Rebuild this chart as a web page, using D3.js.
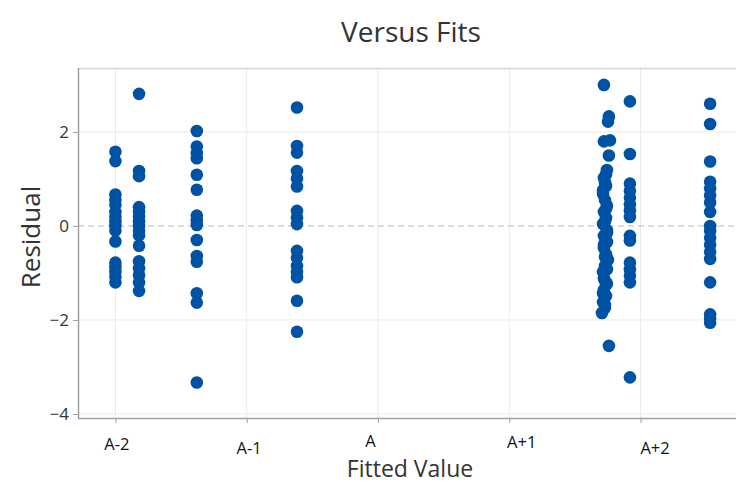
<!DOCTYPE html>
<html>
<head>
<meta charset="utf-8">
<script src="https://cdn.jsdelivr.net/npm/d3@7"></script>
<style>
  html, body { margin: 0; padding: 0; background: #fff; }
  svg { display: block; font-family: "Open Sans", "Noto Sans", sans-serif; }
</style>
</head>
<body>
<svg id="chart" width="736" height="484"></svg>
<script>
// ---- data ----
const xTickValues = [-2, -1, 0, 1, 2];
const xTickLabels = ["A-2", "A-1", "A", "A+1", "A+2"];
const yTickValues = [-4, -2, 0, 2];

// fitted value of each point (in units relative to A)
const fits = [
  // column near A-2
  -2.0, -2.0, -2.0, -2.0, -2.0, -2.0, -2.0, -2.0, -2.0, -2.0, -2.0, -2.0, -2.0, -2.0, -2.0, -2.0,
  // second column
  -1.82, -1.82, -1.82, -1.82, -1.82, -1.82, -1.82, -1.82, -1.82, -1.82, -1.82, -1.82, -1.82, -1.82, -1.82, -1.82,
  // third column
  -1.38, -1.38, -1.38, -1.38, -1.38, -1.38, -1.38, -1.38, -1.38, -1.38, -1.38, -1.38, -1.38, -1.38, -1.38,
  // fourth column
  -0.617, -0.617, -0.617, -0.617, -0.617, -0.617, -0.617, -0.617, -0.617, -0.617, -0.617, -0.617, -0.617, -0.617, -0.617, -0.617,
  // fifth column (dense)
  1.721, 1.759, 1.752, 1.721, 1.767, 1.759,
  1.744, 1.721, 1.737, 1.714, 1.729, 1.744, 1.721, 1.737, 1.714, 1.744, 1.721, 1.744, 1.721, 1.737,
  1.752, 1.729, 1.714, 1.721, 1.744, 1.721, 1.737, 1.714, 1.729, 1.706, 1.759,
  1.737, 1.729, 1.714, 1.737, 1.729, 1.744, 1.721, 1.729, 1.744, 1.729, 1.714, 1.729,
  // sixth column
  1.919, 1.919, 1.919, 1.919, 1.919, 1.919, 1.919, 1.919, 1.919, 1.919, 1.919, 1.919, 1.919, 1.919, 1.919,
  // seventh column
  2.53, 2.53, 2.53, 2.53, 2.53, 2.53, 2.53, 2.53, 2.53, 2.53, 2.53, 2.53, 2.53, 2.53, 2.53, 2.53, 2.53, 2.53
];

const residuals = [
  // column near A-2
  1.58, 1.38, 0.67, 0.55, 0.45, 0.3, 0.2, 0.1, 0.0, -0.1, -0.33, -0.78, -0.88, -0.98, -1.08, -1.2,
  // second column
  2.81, 1.17, 1.06, 0.4, 0.3, 0.2, 0.1, 0.0, -0.1, -0.2, -0.42, -0.75, -0.9, -1.05, -1.2, -1.38,
  // third column
  2.02, 1.69, 1.55, 1.44, 1.09, 0.77, 0.22, 0.12, 0.02, -0.3, -0.64, -0.76, -1.43, -1.63, -3.33,
  // fourth column
  2.52, 1.70, 1.56, 1.17, 1.01, 0.84, 0.32, 0.18, 0.04, -0.53, -0.68, -0.85, -0.98, -1.09, -1.59, -2.25,
  // fifth column (dense)
  3.0, 2.33, 2.22, 1.80, 1.82, 1.5,
  1.19, 1.02, 0.85, 0.68, 0.55, 0.43, 0.30, 0.17, 0.04, -0.09, -0.21, -0.34, -0.47, -0.60,
  -0.72, -0.85, -0.98, -1.11, -1.23, -1.36, -1.49, -1.62, -1.74, -1.85, -2.55,
  1.1, 0.93, 0.76, 0.36, 0.1, -0.15, -0.4, -0.66, -0.92, -1.17, -1.43, -1.68,
  // sixth column
  2.65, 1.53, 0.9, 0.75, 0.6, 0.46, 0.33, 0.19, -0.21, -0.31, -0.78, -0.92, -1.06, -1.2, -3.22,
  // seventh column
  2.6, 2.17, 1.37, 0.94, 0.8, 0.65, 0.5, 0.3, 0.0, -0.1, -0.25, -0.4, -0.55, -0.7, -1.2, -1.88, -1.97, -2.06
];

// ---- layout ----
const svg = d3.select("#chart");
const plot = { left: 78, top: 68, right: 736, bottom: 418 };

const x = d3.scaleLinear().domain([-2.285, 2.727]).range([plot.left, plot.right]);
const y = d3.scaleLinear().domain([-4.085, 3.36]).range([plot.bottom, plot.top]);

// gridlines
const grid = svg.append("g");
grid.selectAll(".vg").data(xTickValues).join("line")
  .attr("x1", d => x(d)).attr("x2", d => x(d))
  .attr("y1", plot.top).attr("y2", plot.bottom)
  .attr("stroke", "#ebebeb").attr("stroke-width", 1);
grid.selectAll(".hg").data(yTickValues.filter(d => d !== 0)).join("line")
  .attr("x1", plot.left).attr("x2", plot.right)
  .attr("y1", d => y(d)).attr("y2", d => y(d))
  .attr("stroke", "#ebebeb").attr("stroke-width", 1);

// top frame
svg.append("line")
  .attr("x1", plot.left).attr("x2", plot.right)
  .attr("y1", plot.top + 0.5).attr("y2", plot.top + 0.5)
  .attr("stroke", "#d6d6d6").attr("stroke-width", 1.5);

// zero reference line
svg.append("line")
  .attr("x1", plot.left).attr("x2", plot.right)
  .attr("y1", y(0)).attr("y2", y(0))
  .attr("stroke", "#b8b8b8").attr("stroke-width", 1)
  .attr("stroke-dasharray", "6,4");

// axes
const yAxis = d3.axisLeft(y).tickValues(yTickValues).tickSize(5).tickPadding(4).tickFormat(d3.format("d"));
const gy = svg.append("g").attr("transform", `translate(${plot.left},0)`).call(yAxis);
gy.select(".domain").attr("stroke", "#a0a0a0").attr("stroke-width", 1.5)
  .attr("d", `M0.5,${plot.top}V${plot.bottom}`);
gy.selectAll(".tick line").attr("stroke", "#a0a0a0");
gy.selectAll(".tick text").attr("font-size", 17).attr("fill", "#333")
  .attr("font-family", "'Open Sans', 'Noto Sans', sans-serif");

const xAxis = d3.axisBottom(x).tickValues(xTickValues).tickSize(5).tickFormat((d, i) => xTickLabels[i]);
const gx = svg.append("g").attr("transform", `translate(0,${plot.bottom})`).call(xAxis);
gx.select(".domain").attr("stroke", "#a0a0a0").attr("stroke-width", 1.5)
  .attr("d", `M${plot.left},0.5H${plot.right}`);
gx.selectAll(".tick line").attr("stroke", "#a0a0a0");
// label nudges (styling): the reference staggers these labels
const nudgeX = [1, 2, -8, 12, 14];
const nudgeY = [32, 36, 29, 30, 36];
gx.selectAll(".tick text")
  .attr("font-size", 16.5).attr("fill", "#111")
  .attr("font-family", "'Open Sans', 'Noto Sans', sans-serif")
  .attr("dy", null)
  .attr("x", (d, i) => nudgeX[i])
  .attr("y", (d, i) => nudgeY[i]);

// points
svg.append("g").selectAll("circle").data(fits.map((f, i) => [f, residuals[i]])).join("circle")
  .attr("cx", d => x(d[0]))
  .attr("cy", d => y(d[1]))
  .attr("r", 6.3)
  .attr("fill", "#0052a4");

// title and axis titles
svg.append("text").attr("x", 411).attr("y", 42).attr("text-anchor", "middle")
  .attr("font-size", 28).attr("fill", "#333").text("Versus Fits");
svg.append("text").attr("x", 410).attr("y", 477).attr("text-anchor", "middle")
  .attr("font-size", 23).attr("fill", "#333").text("Fitted Value");
svg.append("text").attr("transform", "translate(40,237) rotate(-90)").attr("text-anchor", "middle")
  .attr("font-size", 26).attr("fill", "#333").text("Residual");
</script>
</body>
</html>
